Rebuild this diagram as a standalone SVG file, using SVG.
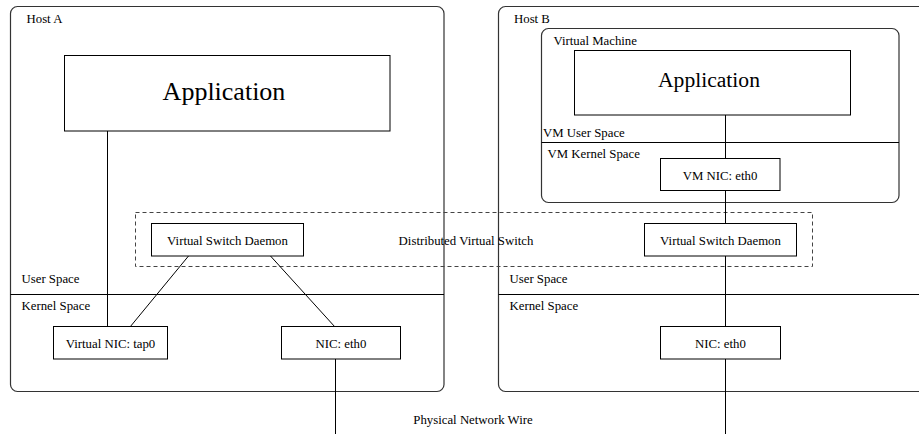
<svg xmlns="http://www.w3.org/2000/svg" width="919" height="434" viewBox="0 0 919 434" font-family="'Liberation Serif', 'DejaVu Serif', serif">
<style>
.box{fill:#fff;stroke:#000;stroke-width:1}
.host{fill:none;stroke:#333;stroke-width:1.2}
.ln{stroke:#000;stroke-width:1;fill:none}
.dash{fill:none;stroke:#444;stroke-width:1;stroke-dasharray:4 3}
text{font-family:'Liberation Serif','DejaVu Serif',serif;font-size:12.8px;fill:#000}
.c{text-anchor:middle}
.big{font-size:26px}
.mid{font-size:21.6px}
</style>
<rect width="919" height="434" fill="#fff"/>
<g id="hostA">
<rect class="host" x="10.5" y="6.5" width="433.5" height="385" rx="7"/>
<text x="26.5" y="22.5">Host A</text>
<line class="ln" x1="10.5" y1="294.5" x2="444" y2="294.5"/>
<text x="21.5" y="283">User Space</text>
<text x="21.5" y="310">Kernel Space</text>
</g>
<g id="hostB">
<rect class="host" x="498.5" y="6.5" width="440" height="385" rx="7"/>
<text x="514" y="22.5">Host B</text>
<line class="ln" x1="498.5" y1="294.5" x2="919" y2="294.5"/>
<text x="509.5" y="283">User Space</text>
<text x="509.5" y="310">Kernel Space</text>
</g>
<g id="vm">
<rect class="host" x="541.5" y="28.5" width="357.5" height="174" rx="7"/>
<text x="553.5" y="44.5">Virtual Machine</text>
<line class="ln" x1="541.5" y1="142.5" x2="899" y2="142.5"/>
<text x="543" y="136.5">VM User Space</text>
<text x="547.5" y="158">VM Kernel Space</text>
</g>
<g id="dvs">
<rect class="dash" x="135.5" y="212.5" width="677" height="54"/>
<text class="c" x="466" y="245">Distributed Virtual Switch</text>
</g>
<g id="connectors">
<line class="ln" x1="107.5" y1="131" x2="107.5" y2="327"/>
<line class="ln" x1="188.5" y1="256" x2="130" y2="327"/>
<line class="ln" x1="270.5" y1="256" x2="335" y2="327"/>
<line class="ln" x1="335.5" y1="359" x2="335.5" y2="434"/>
<line class="ln" x1="725.5" y1="115" x2="725.5" y2="434"/>
</g>
<g id="appA">
<rect class="box" x="64.5" y="55.5" width="325.5" height="75.5"/>
<text class="c big" x="224" y="100">Application</text>
</g>
<g id="appB">
<rect class="box" x="574.5" y="50.5" width="276" height="64.5"/>
<text class="c mid" x="709" y="87">Application</text>
</g>
<g id="vmnic">
<rect class="box" x="660.5" y="158.5" width="119.5" height="32"/>
<text class="c" x="720" y="180">VM NIC: eth0</text>
</g>
<g id="vsdA">
<rect class="box" x="151.5" y="223.5" width="152" height="32.5"/>
<text class="c" x="227.5" y="245">Virtual Switch Daemon</text>
</g>
<g id="vsdB">
<rect class="box" x="644.5" y="223.5" width="152" height="32.5"/>
<text class="c" x="720.5" y="245">Virtual Switch Daemon</text>
</g>
<g id="tap0">
<rect class="box" x="53.5" y="326.5" width="114" height="32.5"/>
<text class="c" x="110.5" y="348">Virtual NIC: tap0</text>
</g>
<g id="nicA">
<rect class="box" x="281.5" y="326.5" width="119" height="32.5"/>
<text class="c" x="341" y="348">NIC: eth0</text>
</g>
<g id="nicB">
<rect class="box" x="660.5" y="326.5" width="120" height="32.5"/>
<text class="c" x="720.5" y="348">NIC: eth0</text>
</g>
<g id="wire">
<text class="c" x="473" y="423.5">Physical Network Wire</text>
</g>
</svg>
